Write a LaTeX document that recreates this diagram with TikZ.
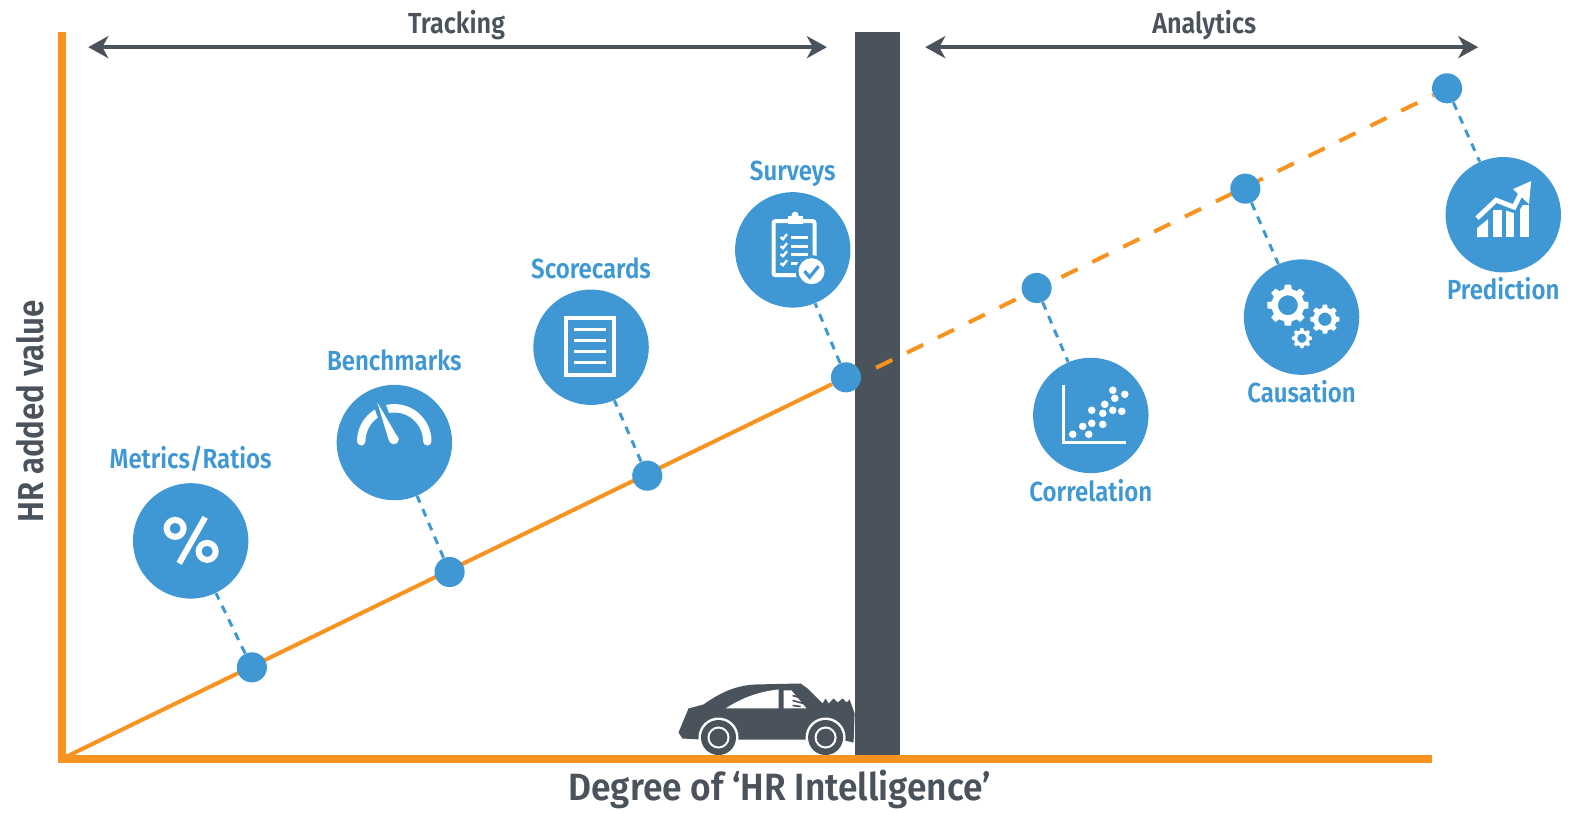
\documentclass[tikz,border=0pt]{standalone}
\usepackage{fontspec}
\setmainfont{Fira Sans}[FakeStretch=0.87,BoldFont={Fira Sans SemiBold}]
\usetikzlibrary{arrows.meta}
\pgfdeclarelayer{bg}
\pgfsetlayers{bg,main}
\definecolor{hrblue}{HTML}{3F98D3}
\definecolor{hrorange}{HTML}{F7931E}
\definecolor{hrdark}{HTML}{4A525C}
\tikzset{
  x=0.5bp,y=-0.5bp,
  bigc/.style={circle,fill=hrblue,minimum size=57.5bp,inner sep=0pt},
  dotn/.style={circle,fill=hrblue,minimum size=15bp,inner sep=0pt},
  conn/.style={draw=hrblue,line width=1.5pt,dash pattern=on 4pt off 3.5pt},
  lbl/.style={text=hrblue,font=\fontsize{13.8}{15}\selectfont\bfseries,inner sep=0pt},
  ttl/.style={text=hrdark,font=\fontsize{14.5}{16}\selectfont\bfseries,inner sep=0pt},
  bigttl/.style={text=hrdark,font=\fontsize{18}{20}\selectfont\bfseries,inner sep=0pt},
  axisl/.style={draw=hrorange,line width=4pt},
  span/.style={draw=hrdark,line width=1.8pt,{Stealth[length=10pt,width=11pt,inset=3pt]}-{Stealth[length=10pt,width=11pt,inset=3pt]}},
  wht/.style={draw=white,line width=#1,line cap=round,line join=round},
  wht/.default=1pt,
}
\newcommand{\hrgear}[4]{% x y outer hole
  \foreach \a in {0,45,...,315}{
    \fill[white,shift={(#1,#2)},rotate=\a] (#3*0.72,-#3*0.2) -- (#3,-#3*0.15) -- (#3,#3*0.15) -- (#3*0.72,#3*0.2) -- cycle;
  }
  \fill[white,even odd rule] (#1,#2) circle[radius=#3*0.8] (#1,#2) circle[radius=#4];
}
\begin{document}
\begin{tikzpicture}
\useasboundingbox (0,0) rectangle (1567.5,809.2);
% axes and bar
\coordinate (top) at (62,32);
\coordinate (org) at (62,756);
\coordinate (endx) at (1427,756);
% dots
\node[dotn] (d1) at (251,665) {};
\node[dotn] (d2) at (448,570) {};
\node[dotn] (d3) at (645,474) {};
\node[dotn] (d4) at (843,376) {};
\node[dotn] (d5) at (1033,287) {};
\node[dotn] (d6) at (1241,188) {};
\node[dotn] (d7) at (1442,88) {};
% icon discs
\node[bigc] (c1) at (190,539) {};
\node[bigc] (c2) at (393,441) {};
\node[bigc] (c3) at (589,346) {};
\node[bigc] (c4) at (790,249) {};
\node[bigc] (c5) at (1087,414) {};
\node[bigc] (c6) at (1297,316) {};
\node[bigc] (c7) at (1498,214) {};
\begin{pgfonlayer}{bg}
\fill[hrdark] (852,32) rectangle (897,752);
% trend
\draw[draw=hrorange,line width=2pt] (org) -- (d4);
\coordinate (ds) at (873,366.5);
\draw[draw=hrorange,line width=2pt,dash pattern=on 9pt off 8.2pt] (ds) -- (d7);
% connectors
\foreach \i in {1,...,7}{\draw[conn] (d\i) -- (c\i);}
\end{pgfonlayer}
% span arrows
\coordinate (a1) at (88,47); \coordinate (a2) at (824,47);
\coordinate (a3) at (922,47); \coordinate (a4) at (1473,47);
\draw[span] (a1) -- (a2);
\draw[span] (a3) -- (a4);
% labels
\node[ttl] (t1) at (455,25) {Tracking};
\node[ttl] (t2) at (1200,25) {Analytics};
\node[bigttl,font=\fontsize{19}{21}\selectfont\bfseries\addfontfeature{FakeStretch=0.93}] (t3) at (777,787) {Degree of ‘HR Intelligence’};
\node[bigttl,rotate=90] (t4) at (30,410) {HR added value};
\node[lbl] (l1) at (190,457) {Metrics/Ratios};
\node[lbl] (l2) at (393,359) {Benchmarks};
\node[lbl] (l3) at (589,267) {Scorecards};
\node[lbl] (l4) at (790,173) {Surveys};
\node[lbl] (l5) at (1087,489) {Correlation};
\node[lbl] (l6) at (1297,390) {Causation};
\node[lbl] (l7) at (1498,288) {Prediction};
\begin{scope}[scale=0.9972]
% percent icon
\draw[wht=3pt] (175,528) circle[radius=8.5];
\draw[wht=3pt] (207,551) circle[radius=8.5];
\draw[draw=white,line width=3pt] (205,517) -- (179,563);
% gauge icon
\draw[wht=4.2pt] (361,441) arc[start angle=180,end angle=360,radius=33];
\fill[hrblue] (370,397) -- (383,397) -- (399,442) -- (387,442) -- cycle;
\fill[white] (377,402) -- (398,438) -- (388.5,440) -- cycle;
\fill[white] (393.5,439) circle[radius=5];
% scorecard icon
\draw[draw=white,line width=2pt] (566,318) rectangle (614,375);
\foreach \y in {329,340,351,362}{\draw[draw=white,line width=1.5pt] (574,\y) -- (606,\y);}
% survey icon
\draw[draw=white,line width=2pt,rounded corners=1pt] (773,221) rectangle (814,275);
\fill[white] (787,216) rectangle (802,224);
\fill[white] (794.5,215) circle[radius=3.5];
\foreach \y in {237,246,254,263}{
  \draw[draw=white,line width=1.6pt] (790,\y) -- (807,\y);
  \draw[draw=white,line width=1.2pt] (780,\y) -- (782.5,\y+2) -- (786.5,\y-3);
}
\fill[hrblue] (811,271) circle[radius=16];
\fill[white] (811,271) circle[radius=13];
\draw[draw=hrblue,line width=1.6pt] (804,271) -- (809,277) -- (818,266);
% correlation icon
\draw[draw=white,line width=1.5pt] (1063,385) -- (1063,442) -- (1125,442);
\foreach \p in {(1072,434),(1088,434),(1082,426),(1091,423),(1102,424),(1091,410),(1102,413),(1104,404),(1112,410),(1121,411),(1114,398),(1112,390),(1124,394)}{
  \fill[white] \p circle[radius=3.8];
}
% gears icon
\hrgear{1287}{305}{20.5}{10}
\hrgear{1324}{319}{14.5}{6.7}
\hrgear{1301}{338}{10}{4.8}
% prediction icon
\fill[white] (1476,237) -- (1476,228) -- (1487,219) -- (1487,237) -- cycle;
\fill[white] (1492,237) rectangle (1501,210);
\fill[white] (1505,237) rectangle (1513,210);
\fill[white] (1519,237) rectangle (1528,205);
\fill[hrblue] (1472,215) -- (1495,194) -- (1512,201) -- (1517,189) -- (1527,196) -- (1516,214) -- (1495,207) -- (1480,223) -- cycle;
\draw[draw=white,line width=2.4pt] (1476,218) -- (1495,200) -- (1513,207) -- (1520,193);
\fill[white] (1530,181) -- (1512,189) -- (1528,204) -- cycle;
% car
\fill[hrdark] (678,732) -- (688,708) -- (703,704) .. controls (720,692) and (735,685) .. (755,684)
  -- (800,683) -- (807,688) -- (822,703) -- (825,698) -- (828,703) -- (833,698) -- (837,702) -- (842,698) -- (846,702) -- (849,699) -- (854,713) -- (853,742) -- (840,739)
  -- (700,739) -- (682,738) -- cycle;
\fill[white] (725,708) .. controls (740,698) and (758,691) .. (778,689) -- (778,708) -- cycle;
\fill[white] (783,690) -- (791,690) -- (806,708) -- (783,708) -- cycle;
\draw[draw=hrdark,line width=.8pt] (792,695) -- (802,698) (792,700) -- (803,703) (792,705) -- (800,706);
\foreach \x in {718,825}{
  \fill[white] (\x,737) circle[radius=20];
  \fill[hrdark] (\x,737) circle[radius=17.5];
  \draw[draw=white,line width=1pt] (\x,737) circle[radius=10];
}
\end{scope}
% axes on top
\draw[axisl] (top) -- (62,760);
\draw[axisl] (58,756) -- (endx);
\end{tikzpicture}
\end{document}
